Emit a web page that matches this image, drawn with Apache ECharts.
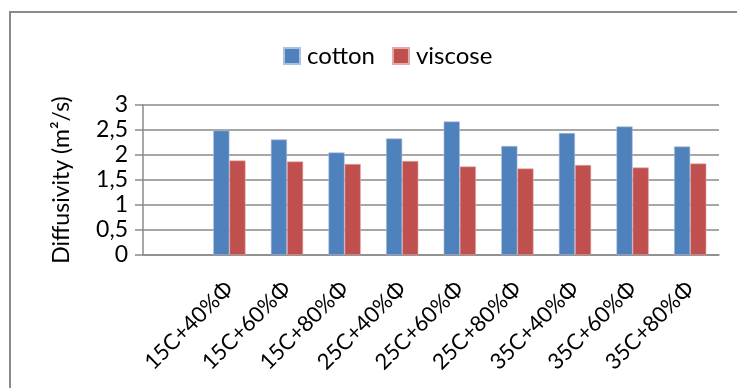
<!DOCTYPE html>
<html>
<head>
<meta charset="utf-8">
<script src="https://cdn.jsdelivr.net/npm/echarts@6/dist/echarts.min.js"></script>
<style>
  html, body { margin: 0; padding: 0; background: #fff; }
  #chart { width: 737px; height: 388px; }
</style>
</head>
<body>
<div id="chart"></div>
<script>
// first slot on the axis is left empty, as in the original sheet
var categories = ['', '15C+40%Φ', '15C+60%Φ', '15C+80%Φ', '25C+40%Φ', '25C+60%Φ',
                  '25C+80%Φ', '35C+40%Φ', '35C+60%Φ', '35C+80%Φ'];
var cotton  = ['-', 2.49, 2.31, 2.05, 2.33, 2.67, 2.18, 2.44, 2.57, 2.17];
var viscose = ['-', 1.89, 1.87, 1.82, 1.88, 1.77, 1.73, 1.80, 1.75, 1.83];
var yTicks = ['0', '0,5', '1', '1,5', '2', '2,5', '3'];

var font = 'Lato, "Open Sans", sans-serif';
var gray = '#8a8a8a';

var chart = echarts.init(document.getElementById('chart'));

chart.setOption({
    animation: false,
    textStyle: { fontFamily: font, color: '#000' },
    graphic: [{
        type: 'rect',
        shape: { x: 10, y: 12, width: 900, height: 600 },
        style: { fill: 'none', stroke: gray, lineWidth: 2 },
        silent: true
    }],
    legend: {
        top: 39,
        left: 278,
        icon: 'rect',
        itemWidth: 16,
        itemHeight: 16,
        itemGap: 17,
        textStyle: { fontFamily: font, fontSize: 24, color: '#000', padding: [0, 0, 0, 2] },
        data: ['cotton', 'viscose']
    },
    grid: { left: 143, right: 18, top: 105, bottom: 133 },
    xAxis: {
        type: 'category',
        data: categories,
        axisLine: { lineStyle: { color: gray, width: 1.5 } },
        axisTick: { length: 8, lineStyle: { color: gray, width: 1.5 } },
        axisLabel: {
            rotate: 45,
            margin: 30,
            fontSize: 22,
            color: '#000',
            fontFamily: font
        }
    },
    yAxis: {
        type: 'value',
        min: 0,
        max: 3,
        interval: 0.5,
        name: 'Diffusivity (m²/s)',
        nameLocation: 'middle',
        nameGap: 70,
        nameTextStyle: { fontSize: 23, color: '#000', fontFamily: font },
        axisLine: { show: true, lineStyle: { color: gray, width: 1.5 } },
        axisTick: { show: true, length: 8, lineStyle: { color: gray, width: 1.5 } },
        axisLabel: {
            margin: 15,
            fontSize: 23,
            color: '#000',
            fontFamily: font,
            formatter: function (v) { return yTicks[Math.round(v * 2)]; }
        },
        splitLine: { lineStyle: { color: gray, width: 1.5 } }
    },
    series: [
        {
            name: 'cotton',
            type: 'bar',
            data: cotton,
            barGap: '0%',
            barCategoryGap: '44%',
            itemStyle: { color: '#4F81BD', borderColor: '#a9c0de', borderWidth: 0.6 }
        },
        {
            name: 'viscose',
            type: 'bar',
            data: viscose,
            itemStyle: { color: '#C0504D', borderColor: '#e3aaa8', borderWidth: 0.6 }
        }
    ]
});
</script>
</body>
</html>
